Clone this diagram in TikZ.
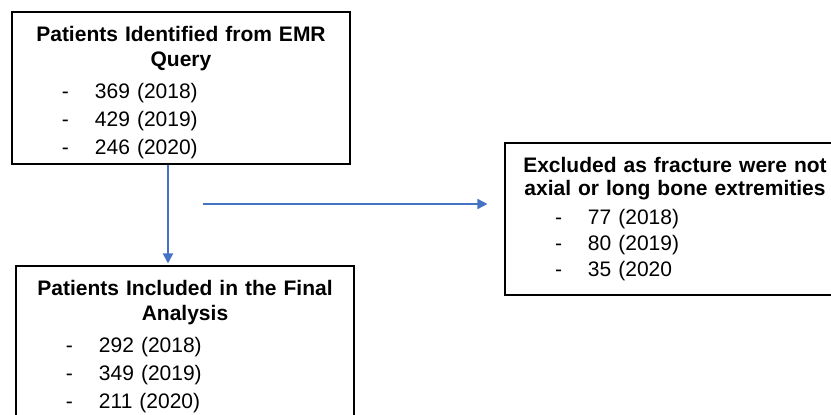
\documentclass[tikz,border=0pt]{standalone}
\usepackage{fontspec}
\setmainfont{Liberation Sans}
\usetikzlibrary{arrows.meta}
\definecolor{flowblue}{HTML}{4472C4}
\setlength{\parindent}{0pt}
% one line of the year list: dash, then count and year
\newcommand\yr[1]{\par\noindent\hspace*{50pt}-\hspace*{26pt}#1}
% centred bold heading of a box, first line raised by a strut
\newcommand\boxtitle[3]{{\centering\setlength{\baselineskip}{#1}%
  \textbf{\rule{0pt}{#2}#3}\par}}

\begin{document}
\begin{tikzpicture}
[x=1pt,y=-1pt,
 box/.style={rectangle,draw=black,line width=1.1pt,inner sep=0pt,
   text width=338pt,minimum height=152pt,
   font=\fontsize{21}{28}\selectfont},
 flow/.style={draw=flowblue,line width=1.6pt,
   -{Triangle[length=10pt,width=10pt]}}]
\useasboundingbox (0,0) rectangle (831,415);

\node [box] (query) at (181,88)
  {\boxtitle{25pt}{25.3pt}{Patients Identified from EMR\\Query}
   \vspace{4pt}\yr{369 (2018)}\yr{429 (2019)}\yr{246 (2020)}};
\node [box] (final) at (185,342)
  {\boxtitle{25pt}{25.3pt}{Patients Included in the Final\\Analysis}
   \vspace{4pt}\yr{292 (2018)}\yr{349 (2019)}\yr{211 (2020)}};
\node [box,text width=340pt,font=\fontsize{21}{26}\selectfont]
  (excluded) at (675,219)
  {\boxtitle{23pt}{0pt}{Excluded as fracture were not\\axial or long bone extremities}
   \vspace{3pt}\yr{77 (2018)}\yr{80 (2019)}\yr{35 (2020}};

\coordinate (split) at (203,204);
\draw [flow,shorten >=2pt] ([xshift=-13pt]query.south)
  -- ([xshift=-13pt]query.south |- final.north);
\draw [flow,shorten >=17pt] (split) -- (split -| excluded.west);
\end{tikzpicture}
\end{document}
